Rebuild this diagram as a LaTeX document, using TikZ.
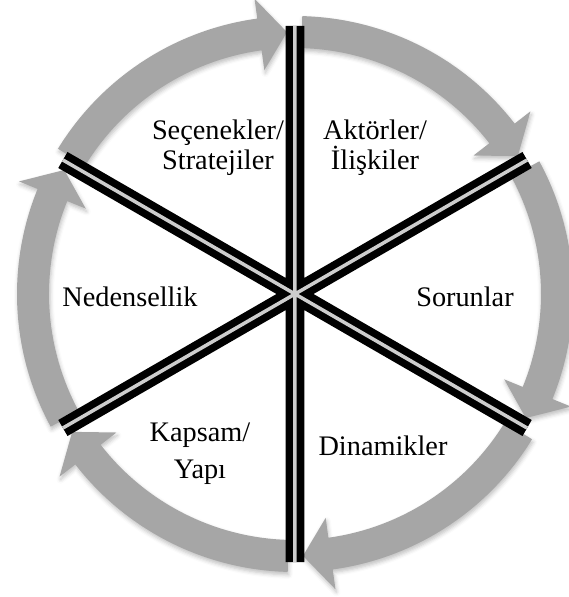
\documentclass[tikz,border=0pt]{standalone}
\usepackage{fontspec}
\setmainfont{Liberation Serif}
\definecolor{bandgray}{RGB}{166,166,166}
\definecolor{gapgray}{RGB}{205,205,205}
\usetikzlibrary{shadows.blur}
\tikzset{
    band/.style={
           fill=bandgray,
           draw=none,
           blur shadow={shadow xshift=1pt, shadow yshift=-3pt,
                        shadow blur radius=4pt, shadow opacity=25},
           },
    spoke/.style={
           draw=black,
           line width=7.5pt,
           double=gapgray,
           double distance=3.5pt,
           },
    sector/.style={
           font=\fontsize{28.3}{30}\selectfont,
           align=center,
           inner sep=0pt,
           },
}
% #1 = angle of the spoke where the arrow starts (it runs clockwise 60 degrees)
\newcommand{\cyclearrow}[1]{%
  \fill[band] (#1-1.5:278) arc[start angle=#1-1.5, end angle=#1-52.2, radius=278]
      -- (#1-52.2:298) -- (#1-58.25:262) -- (#1-52.2:226) -- (#1-52.2:246)
      arc[start angle=#1-52.2, end angle=#1-1.5, radius=246] -- cycle;}

\begin{document}
\begin{tikzpicture}[x=1pt, y=1pt]
      \useasboundingbox (-295,-303) rectangle (273,294);
      \coordinate (c) at (0,0);
      % gray arrows round the rim
      \foreach \a in {90,30,-30,-90,-150,150} \cyclearrow{\a};
      % spokes
      \foreach \a [count=\i] in {90,30,-30,-90,-150,150}
          \coordinate (s\i) at (\a:268);
      \draw[spoke] (c) -- (s1) (c) -- (s2) (c) -- (s3)
                   (c) -- (s4) (c) -- (s5) (c) -- (s6);
      % labels
      \node[sector] (opt)   at (-77, 146)  {Seçenekler/\\Stratejiler};
      \node[sector] (act)   at (80, 146)   {Aktörler/\\İlişkiler};
      \node[sector] (prob)  at (170, -3)   {Sorunlar};
      \node[sector] (dyn)   at (88, -152)  {Dinamikler};
      \node[sector] (scope) at (-95, -160) {Kapsam/\\[7pt]Yapı};
      \node[sector] (cause) at (-165, -3)  {Nedensellik};
\end{tikzpicture}
\end{document}
